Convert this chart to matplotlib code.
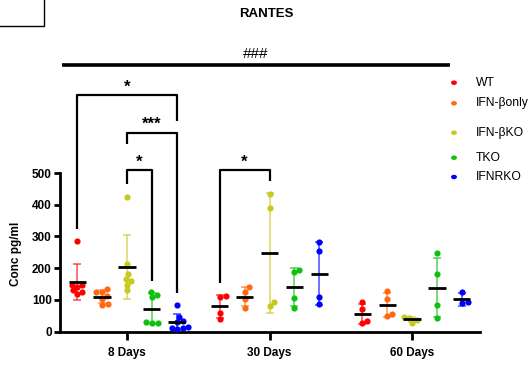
import numpy as np
import matplotlib
matplotlib.use("Agg")
import matplotlib.pyplot as plt
from matplotlib.patches import Rectangle

plt.rcParams['font.family'] = ['Liberation Sans', 'DejaVu Sans']

# data
days = ['8 Days', '30 Days', '60 Days']
names = ['WT', 'IFN-βonly', 'IFN-βKO', 'TKO', 'IFNRKO']
colors = ['#ff0000', '#ff6a10', '#c8c81e', '#10c010', '#0000ff']

wt = [[285, 147, 142, 147, 118, 130, 126], [110, 112, 57, 39], [92, 70, 26, 33]]
ifnb_only = [[134, 126, 124, 112, 104, 87, 84], [139, 126, 103, 73], [129, 103, 50, 55]]
ifnb_ko = [[426, 213, 180, 165, 160, 148, 131], [434, 389, 80, 92], [46, 42, 37, 28]]
tko = [[124, 115, 108, 26, 26, 29], [187, 194, 107, 73], [247, 182, 84, 42]]
ifnrko = [[84, 45, 33, 30, 12, 10, 8, 15], [282, 254, 110, 86], [126, 89, 92]]
all_data = [wt, ifnb_only, ifnb_ko, tko, ifnrko]

offsets = [-0.35, -0.175, 0.0, 0.175, 0.35]

fig = plt.figure(figsize=(5.28, 3.67), dpi=100)
ax = fig.add_axes([60/528, 35.5/367, 420/528, 316.7/367])
ax.set_xlim(-0.47, 2.477)
ax.set_ylim(0, 1000)

xpx = 142.5   # px per x unit
ypx = 0.3167  # px per y unit
dot = 5.4     # marker diameter px


def swarm(vals, x0):
    placed = []
    xs = np.zeros(len(vals))
    order = np.argsort(vals)
    for i in order:
        v = vals[i]
        dx = 0.0
        for k in range(0, 40):
            dx = ((k + 1) // 2) * (1 if k % 2 else -1) * 1.0
            ok = True
            for (px_, py_) in placed:
                if (dx - px_)**2 + ((v - py_) * ypx)**2 < (dot * 0.95)**2:
                    ok = False
                    break
            if ok:
                break
        placed.append((dx, v))
        xs[i] = x0 + dx / xpx
    return xs


for s, data in enumerate(all_data):
    for g, vals in enumerate(data):
        vals = np.array(vals, dtype=float)
        x0 = g + offsets[s]
        m = vals.mean()
        sd = vals.std(ddof=1)
        ax.errorbar(x0, m, yerr=sd, color=colors[s], alpha=0.6, lw=1.3,
                    capsize=3, capthick=1.3, zorder=2)
        ax.scatter(swarm(vals, x0), vals, s=20, color=colors[s], zorder=3, lw=0)
        ax.hlines(m, x0 - 0.06, x0 + 0.06, color='black', lw=2, zorder=4)

ax.spines['top'].set_visible(False)
ax.spines['right'].set_visible(False)
ax.spines['left'].set_linewidth(2)
ax.spines['bottom'].set_linewidth(2)
ax.spines['left'].set_bounds(0, 500)
ax.set_yticks([0, 100, 200, 300, 400, 500])
ax.set_xticks([0, 1, 2])
ax.set_xticklabels(days)
ax.tick_params(axis='y', width=2, length=4, labelsize=8.5, pad=2)
ax.tick_params(axis='x', width=2, length=6, labelsize=8.5, pad=5)
for lab in ax.get_xticklabels() + ax.get_yticklabels():
    lab.set_fontweight('bold')
ax.set_ylabel('Conc pg/ml', fontsize=8.5, fontweight='bold')
ax.yaxis.set_label_coords(-0.09, 245/1000)

# significance brackets: (x1, x2, top, left end, right end, text)
brackets = [
    (0 + offsets[0], 0 + offsets[4], 747, 324, 665, '*'),
    (0 + offsets[2], 0 + offsets[4], 628, 592, 122, '***'),
    (0 + offsets[2], 0 + offsets[3], 510, 466, 159, '*'),
    (1 + offsets[0], 1 + offsets[2], 510, 152, 475, '*'),
]
for x1, x2, top, l1, l2, txt in brackets:
    ax.plot([x1, x1, x2, x2], [l1, top, top, l2], color='black', lw=1.6,
            clip_on=False, solid_capstyle='butt')
    ax.text((x1 + x2) / 2, top + 2, txt, ha='center', va='bottom',
            fontsize=12, fontweight='bold')

ax.plot([-0.455, 2.27], [841, 841], color='black', lw=2.6, clip_on=False,
        solid_capstyle='butt')
ax.text(0.905, 855, '###', ha='center', va='bottom', fontsize=11)
fig.text(266/528, 1 - 14/367, 'RANTES', ha='center', va='center',
         fontsize=9.5, fontweight='bold')

# legend
leg_y = [82.7, 103.3, 132.7, 157.7, 177]
for s in range(5):
    fig.patches.append(plt.Circle((454/528, 1 - leg_y[s]/367), 0.0042,
                                  transform=fig.transFigure, color=colors[s]))
    fig.text(476/528, 1 - leg_y[s]/367, names[s], ha='left', va='center',
             fontsize=8.7)

fig.patches.append(Rectangle((-0.01, 1 - 26/367), 44/528 + 0.01, 0.1,
                             transform=fig.transFigure, fill=False,
                             edgecolor='black', lw=1))

fig.savefig('out.png', dpi=100)
